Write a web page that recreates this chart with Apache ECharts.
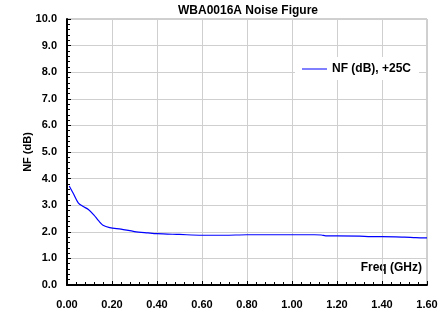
<!DOCTYPE html>
<html>
<head>
<meta charset="utf-8">
<script src="https://cdn.jsdelivr.net/npm/echarts@6/dist/echarts.min.js"></script>
<style>
  html, body { margin: 0; padding: 0; background: #fff; }
  #chart { width: 441px; height: 324px; }
</style>
</head>
<body>
<div id="chart"></div>
<script>
// Frequency (GHz) and noise figure (dB)
const freq = [0.01, 0.03, 0.05, 0.07, 0.095, 0.12, 0.14, 0.16, 0.19, 0.24, 0.30, 0.36, 0.40, 0.50, 0.60, 0.70, 0.80, 0.90, 1.00, 1.10, 1.13, 1.15, 1.20, 1.30, 1.35, 1.40, 1.50, 1.55, 1.60];
const nf = [3.72, 3.41, 3.09, 2.96, 2.84, 2.63, 2.42, 2.25, 2.16, 2.10, 2.01, 1.96, 1.93, 1.90, 1.87, 1.87, 1.89, 1.89, 1.89, 1.89, 1.88, 1.85, 1.85, 1.84, 1.82, 1.82, 1.80, 1.78, 1.77];

const seriesName = "NF (dB), +25C";
const font = "'Liberation Sans', Arial, sans-serif";

const chart = echarts.init(document.getElementById("chart"));

chart.setOption({
  animation: false,
  backgroundColor: "#fff",
  textStyle: { fontFamily: font },
  title: {
    text: "WBA0016A Noise Figure",
    left: 243,
    textAlign: "center",
    top: 0,
    textStyle: { fontSize: 12, fontWeight: "bold", color: "#000", fontFamily: font },
  },
  legend: {
    data: [seriesName],
    left: 295,
    top: 57,
    padding: [6, 8, 5, 7],
    backgroundColor: "#fff",
    icon: "rect",
    itemWidth: 25,
    itemHeight: 1,
    textStyle: { fontSize: 12, fontWeight: "bold", color: "#000", fontFamily: font },
  },
  grid: {
    left: 67, right: 14, top: 19, bottom: 39,
    show: true, borderColor: "#a0a0a0", borderWidth: 1,
  },
  xAxis: {
    type: "value",
    min: 0, max: 1.6, interval: 0.2,
    axisLine: { onZero: false, lineStyle: { color: "#000", width: 2 } },
    axisTick: { inside: true, length: 4, lineStyle: { color: "#000" } },
    minorTick: { show: true, splitNumber: 5, length: 3, lineStyle: { color: "#000" } },
    axisLabel: {
      margin: 14, fontSize: 11, fontWeight: "bold", color: "#000", fontFamily: font,
      formatter: (v) => v.toFixed(2),
    },
    splitLine: { lineStyle: { color: "#cfcfcf", width: 1 } },
  },
  yAxis: {
    type: "value",
    min: 0, max: 10, interval: 1,
    axisLine: { show: true, lineStyle: { color: "#000", width: 2 } },
    axisTick: { show: true, inside: true, length: 4, lineStyle: { color: "#000" } },
    minorTick: { show: true, splitNumber: 5, length: 3, lineStyle: { color: "#000" } },
    axisLabel: {
      margin: 10, fontSize: 11, fontWeight: "bold", color: "#000", fontFamily: font,
      formatter: (v) => v.toFixed(1),
    },
    splitLine: { lineStyle: { color: "#cfcfcf", width: 1 } },
  },
  graphic: [
    {
      type: "text",
      x: 28, y: 152,
      rotation: Math.PI / 2,
      style: {
        text: "NF (dB)", fill: "#000", font: "bold 11px " + font,
        textAlign: "center", textVerticalAlign: "middle",
      },
    },
    {
      type: "text",
      x: 422, y: 268,
      style: {
        text: "Freq (GHz)", fill: "#000", font: "bold 12px " + font,
        textAlign: "right", textVerticalAlign: "middle",
      },
    },
  ],
  series: [
    {
      name: seriesName,
      type: "line",
      data: freq.map((f, i) => [f, nf[i]]),
      smooth: 0.3,
      showSymbol: false,
      symbol: "none",
      lineStyle: { color: "#0000ff", width: 1.2 },
      itemStyle: { color: "#0000ff" },
    },
  ],
});
</script>
</body>
</html>
